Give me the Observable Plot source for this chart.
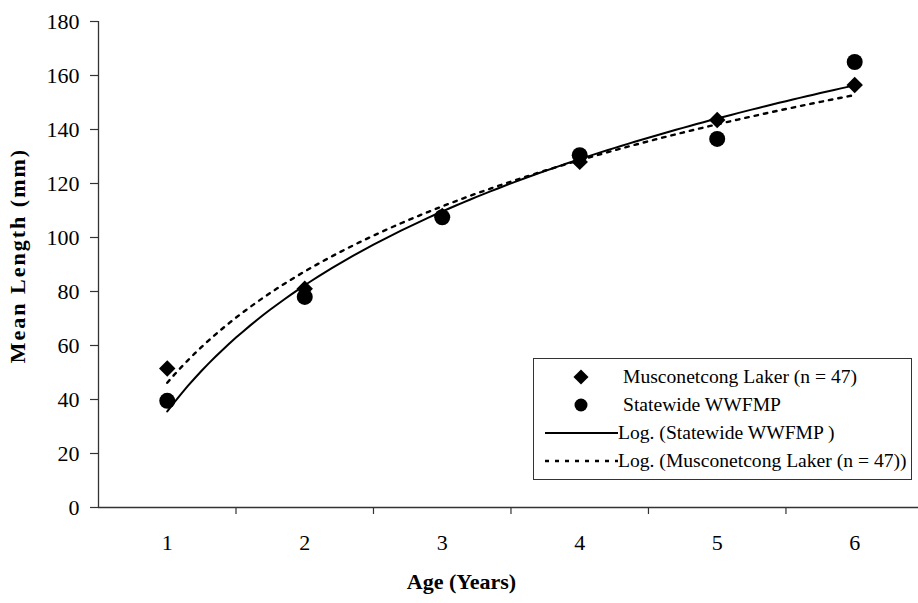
<!DOCTYPE html>
<html>
<head>
<meta charset="utf-8">
<script src="https://cdn.jsdelivr.net/npm/d3@7"></script>
<script src="https://cdn.jsdelivr.net/npm/@observablehq/plot@0.6"></script>
<style>
  html, body { margin: 0; padding: 0; background: #fff; }
  #chart { position: relative; width: 918px; height: 603px; font-family: "Liberation Serif", "Times New Roman", serif; }
  #legend {
    position: absolute; left: 533px; top: 358px; width: 379px; height: 122px;
    border: 1px solid #333; background: #fff; box-sizing: border-box;
    font-size: 19.6px; color: #000;
  }
  #legend .row { position: absolute; left: 0; height: 28px; display: flex; align-items: center; white-space: nowrap; }
  #legend svg { display: block; }
</style>
</head>
<body>
<div id="chart"></div>
<script>
// Mean length at age
const ages = [1, 2, 3, 4, 5, 6];
const musconetcong = [51.5, 81, 108, 128, 143.5, 156.5];
const statewide = [39.5, 78, 107.5, 130.5, 136.5, 165];

const yTicks = [0, 20, 40, 60, 80, 100, 120, 140, 160, 180];
const xLabels = ["1", "2", "3", "4", "5", "6"];
const xTickBounds = [1.5, 2.5, 3.5, 4.5, 5.5];

const seriesNames = [
  "Musconetcong Laker (n = 47)",
  "Statewide WWFMP",
  "Log. (Statewide WWFMP )",
  "Log. (Musconetcong Laker (n = 47))"
];
const yTitle = "Mean Length (mm)";
const xTitle = "Age (Years)";

// Logarithmic least-squares trendline: y = a ln(x) + b
function logFit(xs, ys) {
  const lx = xs.map(Math.log);
  const mx = d3.mean(lx), my = d3.mean(ys);
  const sxy = d3.sum(lx, (v, i) => (v - mx) * (ys[i] - my));
  const sxx = d3.sum(lx, v => (v - mx) ** 2);
  const a = sxy / sxx, b = my - a * mx;
  return d3.range(1, 6.0001, 0.05).map(x => ({x, y: a * Math.log(x) + b}));
}

const muscoPts = ages.map((a, i) => ({age: a, len: musconetcong[i]}));
const statePts = ages.map((a, i) => ({age: a, len: statewide[i]}));
const stateFit = logFit(ages, statewide);
const muscoFit = logFit(ages, musconetcong);

const axisColor = "#333";

const plot = Plot.plot({
  width: 918,
  height: 603,
  marginLeft: 98,
  marginRight: 0,
  marginTop: 21,
  marginBottom: 96,
  style: {fontFamily: "'Liberation Serif', 'Times New Roman', serif", background: "#fff", color: "#000"},
  x: {domain: [0.5, 6.464]},
  y: {domain: [0, 180]},
  marks: [
    // axis lines
    Plot.ruleY([0], {stroke: axisColor, strokeWidth: 1.3}),
    Plot.ruleX([0.5], {stroke: axisColor, strokeWidth: 1.3}),
    Plot.axisY({ticks: yTicks, tickSize: 8, tickPadding: 11, fontSize: 22, label: null, stroke: axisColor, strokeWidth: 1.2}),
    Plot.axisX({ticks: xTickBounds, tickSize: 7, tickFormat: () => "", label: null, stroke: axisColor, strokeWidth: 1.2}),
    Plot.axisX({ticks: ages, tickSize: 0, tickPadding: 27, fontSize: 22, tickFormat: (d, i) => xLabels[i], label: null}),
    // axis titles
    Plot.text([yTitle], {frameAnchor: "left", textAnchor: "middle", dx: -81, dy: -9, rotate: -90, fontSize: 22, fontWeight: "bold", fill: "#000"}),
    Plot.text([xTitle], {frameAnchor: "bottom-left", textAnchor: "middle", dx: 363, dy: 81, fontSize: 22, fontWeight: "bold", fill: "#000"}),
    // data points
    Plot.dot(muscoPts, {x: "age", y: "len", symbol: "diamond2", r: 7.4, fill: "#000", stroke: null}),
    Plot.dot(statePts, {x: "age", y: "len", symbol: "circle", r: 8, fill: "#000", stroke: null}),
    // trendlines
    Plot.line(stateFit, {x: "x", y: "y", stroke: "#000", strokeWidth: 2}),
    Plot.line(muscoFit, {x: "x", y: "y", stroke: "#000", strokeWidth: 2.4, strokeDasharray: "3.5,6"})
  ]
});

const chart = document.getElementById("chart");
chart.appendChild(plot);
// widen the tracking of the vertical title
d3.select(plot).selectAll("text").filter(function() { return this.textContent === yTitle; }).style("letter-spacing", "2px");

// Legend box
const legend = document.createElement("div");
legend.id = "legend";
const rows = [
  {kind: "diamond", text: seriesNames[0], top: 4},
  {kind: "circle", text: seriesNames[1], top: 32},
  {kind: "solid", text: seriesNames[2], top: 60},
  {kind: "dotted", text: seriesNames[3], top: 88}
];
for (const r of rows) {
  const row = document.createElement("div");
  row.className = "row";
  row.style.top = r.top + "px";
  const svg = d3.create("svg").attr("width", 84).attr("height", 28);
  if (r.kind === "diamond") {
    svg.append("path").attr("transform", "translate(47,14)").attr("d", d3.symbol(d3.symbolDiamond2, 145)()).attr("fill", "#000");
  } else if (r.kind === "circle") {
    svg.append("circle").attr("cx", 47).attr("cy", 14).attr("r", 6.5).attr("fill", "#000");
  } else if (r.kind === "solid") {
    svg.append("line").attr("x1", 11).attr("x2", 84).attr("y1", 14).attr("y2", 14).attr("stroke", "#000").attr("stroke-width", 2);
  } else {
    svg.append("line").attr("x1", 11).attr("x2", 84).attr("y1", 14).attr("y2", 14).attr("stroke", "#000").attr("stroke-width", 2.4).attr("stroke-dasharray", "4,6");
  }
  row.appendChild(svg.node());
  const span = document.createElement("span");
  span.textContent = r.text;
  span.style.marginLeft = (r.kind === "diamond" || r.kind === "circle") ? "5px" : "0px";
  row.appendChild(span);
  legend.appendChild(row);
}
chart.appendChild(legend);
</script>
</body>
</html>
